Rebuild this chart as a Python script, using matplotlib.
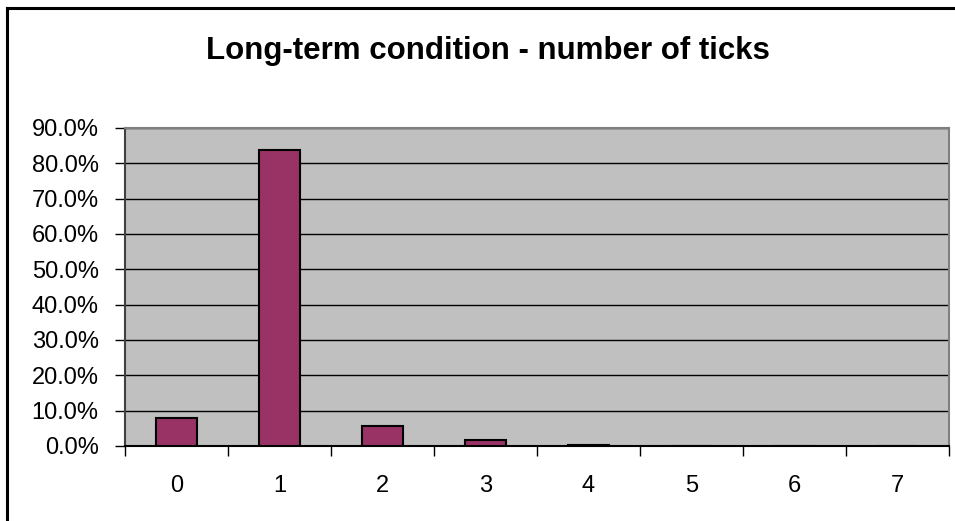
import matplotlib
matplotlib.use("Agg")
import matplotlib.pyplot as plt
from matplotlib.lines import Line2D
from matplotlib.ticker import FuncFormatter, MultipleLocator

categories = ["0", "1", "2", "3", "4", "5", "6", "7"]
values = [7.9, 83.7, 5.7, 1.8, 0.4, 0.0, 0.0, 0.0]
title = "Long-term condition - number of ticks"

plt.rcParams['font.family'] = ['Liberation Sans', 'DejaVu Sans']

W, H = 955, 521
fig = plt.figure(figsize=(W / 100, H / 100), dpi=100)
fig.patch.set_facecolor("white")

# outer chart border (left and top visible)
fig.add_artist(Line2D([7 / W, 7 / W], [0, 1 - 8 / H], transform=fig.transFigure, color="black", lw=2.2))
fig.add_artist(Line2D([7 / W, 1], [1 - 8 / H, 1 - 8 / H], transform=fig.transFigure, color="black", lw=2.2))

left, right, top, bottom = 125, 949, 128, 446
ax = fig.add_axes([left / W, 1 - bottom / H, (right - left) / W, (bottom - top) / H])
ax.set_facecolor("#C0C0C0")

x = list(range(len(categories)))
ax.bar(x, values, width=0.4, color="#993366", edgecolor="black", linewidth=1.5, zorder=3)

ax.set_xlim(-0.5, len(categories) - 0.5)
ax.set_ylim(0, 90)
ax.yaxis.set_major_locator(MultipleLocator(10))
ax.yaxis.set_major_formatter(FuncFormatter(lambda v, p: f"{v:.1f}%"))
ax.yaxis.grid(True, color="black", linewidth=1.0, zorder=1)
ax.set_axisbelow(True)

ax.set_xticks([i - 0.5 for i in range(len(categories) + 1)])
ax.set_xticklabels([])
ax.set_xticks(x, minor=True)
ax.set_xticklabels(categories, minor=True)
ax.tick_params(axis="x", which="major", direction="out", length=7, width=1, color="black")
ax.tick_params(axis="x", which="minor", length=0, pad=21, labelsize=17)
ax.tick_params(axis="y", direction="out", length=7, width=1, color="black", labelsize=17, pad=12)

for s in ["top", "right"]:
    ax.spines[s].set_color("#808080")
    ax.spines[s].set_linewidth(1.5)
ax.spines["left"].set_color("#404040")
ax.spines["left"].set_linewidth(1.5)
ax.spines["bottom"].set_color("black")
ax.spines["bottom"].set_linewidth(1.5)

fig.text(488 / W, 1 - 51 / H, title, ha="center", va="center", fontsize=22.5, fontweight="bold")

fig.savefig("out.png", dpi=100)
